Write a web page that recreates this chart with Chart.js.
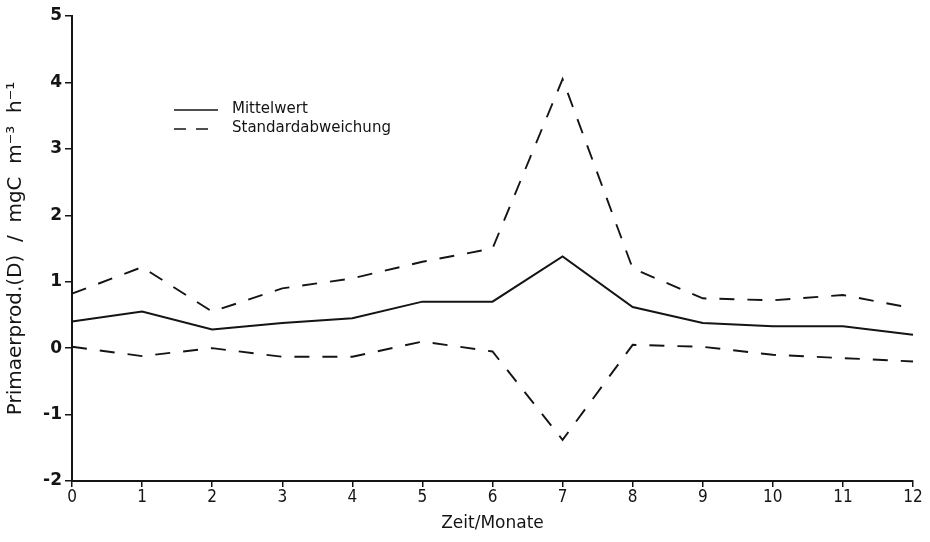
<!DOCTYPE html>
<html>
<head>
<meta charset="utf-8">
<script src="https://cdn.jsdelivr.net/npm/chart.js@4.4.0/dist/chart.umd.min.js"></script>
<style>
  html, body { margin: 0; padding: 0; background: #fff; }
  #wrap { width: 930px; height: 542px; }
</style>
</head>
<body>
<div id="wrap"><canvas id="ppChart" width="930" height="542"></canvas></div>
<script>
// data
const months = ['0', '1', '2', '3', '4', '5', '6', '7', '8', '9', '10', '11', '12'];
const mittelwert = [0.40, 0.55, 0.28, 0.38, 0.45, 0.70, 0.70, 1.38, 0.62, 0.38, 0.33, 0.33, 0.20];
const stdOben = [0.82, 1.22, 0.55, 0.90, 1.05, 1.30, 1.50, 4.05, 1.20, 0.75, 0.72, 0.80, 0.60];
const stdUnten = [0.02, -0.12, 0.00, -0.13, -0.13, 0.10, -0.05, -1.38, 0.05, 0.02, -0.10, -0.15, -0.20];
const yTicks = [-2, -1, 0, 1, 2, 3, 4, 5];

const ink = '#141414';
const dash = [15, 13];

// legend drawn inside the plot, like the original
const legendInside = {
  id: 'legendInside',
  afterDraw(chart) {
    const ctx = chart.ctx;
    const items = [
      { label: chart.data.datasets[0].label, dash: [] },
      { label: chart.data.datasets[1].label, dash: [12, 10] }
    ];
    ctx.save();
    ctx.font = '15px "DejaVu Sans"';
    ctx.fillStyle = ink;
    ctx.strokeStyle = ink;
    ctx.lineWidth = 1.6;
    ctx.textBaseline = 'middle';
    items.forEach((it, i) => {
      const y = 110 + i * 19;
      ctx.setLineDash(it.dash);
      ctx.beginPath();
      ctx.moveTo(174, y);
      ctx.lineTo(218, y);
      ctx.stroke();
      ctx.setLineDash([]);
      ctx.fillText(it.label, 232, y - 1);
    });
    ctx.restore();
  }
};

const ctx = document.getElementById('ppChart').getContext('2d');
const ppChart = new Chart(ctx, {
  type: 'line',
  data: {
    labels: months,
    datasets: [{
      label: 'Mittelwert',
      data: mittelwert,
      borderColor: ink,
      borderWidth: 2,
      pointRadius: 0,
      tension: 0
    }, {
      label: 'Standardabweichung',
      data: stdOben,
      borderColor: ink,
      borderWidth: 1.9,
      borderDash: dash,
      pointRadius: 0,
      tension: 0
    }, {
      label: 'Standardabweichung',
      data: stdUnten,
      borderColor: ink,
      borderWidth: 1.9,
      borderDash: dash,
      pointRadius: 0,
      tension: 0
    }]
  },
  options: {
    responsive: false,
    animation: false,
    layout: { padding: { top: 16, right: 17, left: 0, bottom: 0 } },
    plugins: {
      legend: { display: false },
      tooltip: { enabled: false }
    },
    scales: {
      x: {
        offset: false,
        grid: { drawOnChartArea: false, drawTicks: true, tickLength: 6, color: ink, lineWidth: 1.5 },
        border: { display: true, color: ink, width: 2 },
        ticks: {
          color: ink,
          padding: 0,
          maxRotation: 0,
          autoSkip: false,
          font: { family: '"DejaVu Sans Condensed", "DejaVu Sans"', size: 17 }
        },
        title: {
          display: true,
          text: 'Zeit/Monate',
          color: ink,
          padding: { top: 0, bottom: 8 },
          font: { family: '"DejaVu Sans"', size: 17 }
        },
        afterFit(scale) { scale.height = 61; }
      },
      y: {
        min: -2,
        max: 5,
        afterBuildTicks(scale) { scale.ticks = yTicks.map(v => ({ value: v })); },
        grid: { drawOnChartArea: false, drawTicks: true, tickLength: 7, color: ink, lineWidth: 1.5 },
        border: { display: true, color: ink, width: 2 },
        ticks: {
          color: ink,
          padding: 3,
          font: { family: '"DejaVu Sans"', size: 17, weight: 'bold' }
        },
        title: {
          display: true,
          text: 'Primaerprod.(D)  /  mgC  m⁻³  h⁻¹',
          color: ink,
          padding: { top: 4, bottom: 2 },
          font: { family: '"DejaVu Sans"', size: 20 }
        },
        afterFit(scale) { scale.width = 72; }
      }
    }
  },
  plugins: [legendInside]
});
</script>
</body>
</html>
